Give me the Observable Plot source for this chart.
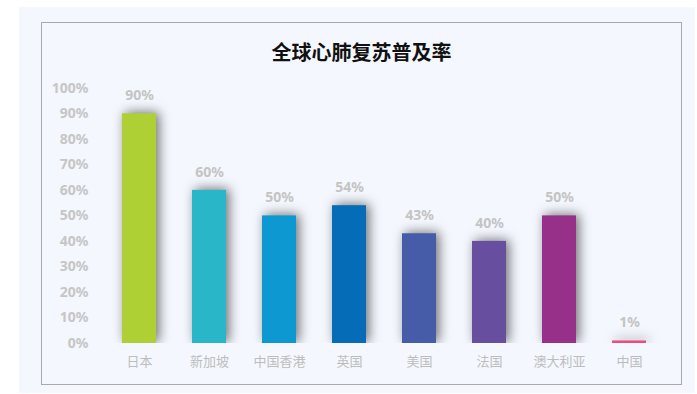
<!DOCTYPE html>
<html>
<head>
<meta charset="utf-8">
<script src="https://cdn.jsdelivr.net/npm/d3@7"></script>
<script src="https://cdn.jsdelivr.net/npm/@observablehq/plot@0.6"></script>
<style>
  html, body { margin: 0; padding: 0; background: #ffffff; width: 697px; height: 394px; overflow: hidden; }
  #bg { position: absolute; left: 19px; top: 7px; width: 676px; height: 386px; background: #f4f7fd; }
  #box { position: absolute; left: 41px; top: 22px; width: 639px; height: 361px; border: 1px solid #a9a9a9; box-sizing: content-box; }
  #title { position: absolute; left: 41px; width: 641px; top: 39px; text-align: center; font: bold 20px "Noto Sans CJK SC", "Noto Sans", sans-serif; color: #111; line-height: 26px; }
  #chart { position: absolute; left: 0; top: 0; }
</style>
</head>
<body>
<div id="bg"></div>
<div id="box"></div>
<div id="title">全球心肺复苏普及率</div>
<div id="chart"></div>
<script>
const countries = ["日本", "新加坡", "中国香港", "英国", "美国", "法国", "澳大利亚", "中国"];
const rates = [0.90, 0.60, 0.50, 0.54, 0.43, 0.40, 0.50, 0.01];
const barColors = ["#afd034", "#29b6c8", "#0d98d2", "#056cb7", "#465ca9", "#684e9f", "#963089", "#ee4c7f"];
const yTicks = [0, 0.1, 0.2, 0.3, 0.4, 0.5, 0.6, 0.7, 0.8, 0.9, 1.0];

const data = countries.map((c, i) => ({country: c, rate: rates[i], color: barColors[i]}));

const chart = Plot.plot({
  width: 697,
  height: 394,
  marginLeft: 101.7,
  marginRight: 30.5,
  marginTop: 87.8,
  marginBottom: 51,
  style: {background: "transparent", overflow: "visible"},
  x: {domain: countries, paddingInner: 0.52, paddingOuter: 0.26, label: null},
  y: {domain: [0, 1], label: null},
  marks: [
    Plot.axisY({ticks: yTicks, tickFormat: d => Math.round(d * 100) + "%", tickSize: 0, tickPadding: 13.7,
      label: null, fill: "#c6c6c6", fontWeight: "bold", fontSize: 14, fontFamily: "Noto Sans, sans-serif"}),
    Plot.axisX({tickSize: 0, tickPadding: 13, label: null, fill: "#bdbdbd", fontSize: 13,
      fontFamily: "Noto Sans CJK SC, sans-serif"}),
    Plot.barY(data, {x: "country", y: "rate", fill: "color", clip: true}),
    Plot.text(data, {x: "country", y: "rate", text: d => Math.round(d.rate * 100) + "%", dy: -18,
      fill: "#c4c4c4", fontWeight: "bold", fontSize: 14, fontFamily: "Noto Sans, sans-serif"})
  ]
});

d3.select(chart).selectAll("g[aria-label='bar'] rect")
  .style("filter", "drop-shadow(3px -1px 6px rgba(0,0,0,0.55))");

document.getElementById("chart").appendChild(chart);
</script>
</body>
</html>
